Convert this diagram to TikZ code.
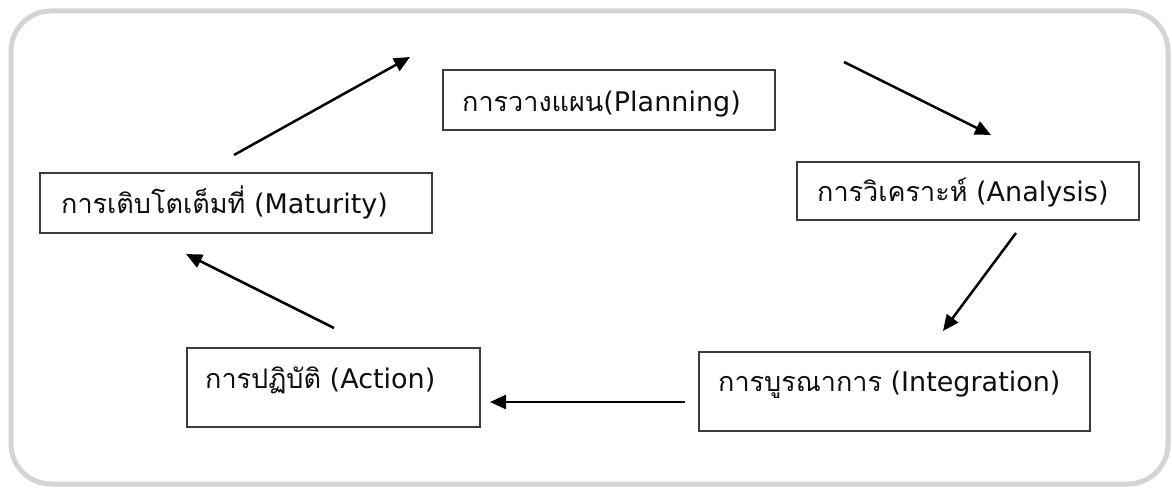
\documentclass[tikz,border=0pt]{standalone}
\usepackage{fontspec}
\setmainfont{DejaVu Sans}
\newfontfamily\thaifont[Script=Thai]{Loma}
\usetikzlibrary{arrows.meta}
\definecolor{framegray}{RGB}{212,212,212}
\definecolor{boxgray}{RGB}{60,60,60}
\definecolor{textgray}{RGB}{15,15,15}
\newcommand{\thtxt}[1]{{\thaifont #1}}
\begin{document}
\begin{tikzpicture}[x=1pt,y=-1pt,
  outerframe/.style={draw=framegray,line width=5pt,rounded corners=40pt},
  stagebox/.style={draw=boxgray,line width=2pt,fill=white,anchor=north west,inner sep=0pt},
  stagetext/.style={anchor=base west,inner sep=0pt,font=\fontsize{27}{31}\selectfont,text=textgray},
  flow/.style={draw=black,line width=2.5pt,-{Triangle[length=16pt,width=14pt]}}
]
\useasboundingbox (0,0) rectangle (1172,487);
\draw[outerframe] (11,11) rectangle (1168,484);

\node[stagebox,minimum width=332pt,minimum height=60pt] (plan) at (442,69) {};
\node[stagebox,minimum width=342pt,minimum height=58pt] (anal) at (796,161) {};
\node[stagebox,minimum width=392pt,minimum height=60pt] (matu) at (39,172) {};
\node[stagebox,minimum width=293pt,minimum height=79pt] (acti) at (186,347) {};
\node[stagebox,minimum width=391pt,minimum height=79pt] (inte) at (698,351) {};

\node[stagetext] (plant) at (462,111) {\thtxt{การวางแผน}(Planning)};
\node[stagetext] (analt) at (817,201) {\thtxt{การวิเคราะห์} (Analysis)};
\node[stagetext] (matut) at (61,213) {\thtxt{การเติบโตเต็มที่} (Maturity)};
\node[stagetext] (actit) at (205,388) {\thtxt{การปฏิบัติ} (Action)};
\node[stagetext] (intet) at (718,391) {\thtxt{การบูรณาการ} (Integration)};

\coordinate (mpS) at (234,155);
\coordinate (mpE) at (410,57);
\coordinate (paS) at (844,62);
\coordinate (paE) at (991,135);
\coordinate (aiS) at (1016,233);
\coordinate (aiE) at (943,331);
\coordinate (iaS) at (685,402);
\coordinate (iaE) at (490,402);
\coordinate (amS) at (334,328);
\coordinate (amE) at (186,254);

\draw[flow] (mpS) -- (mpE);
\draw[flow] (paS) -- (paE);
\draw[flow] (aiS) -- (aiE);
\draw[flow] (iaS) -- (iaE);
\draw[flow] (amS) -- (amE);
\end{tikzpicture}
\end{document}
